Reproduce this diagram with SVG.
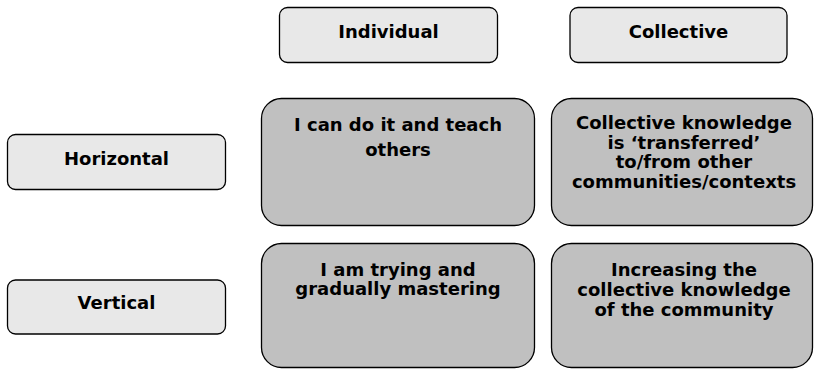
<svg xmlns="http://www.w3.org/2000/svg" width="815" height="370" viewBox="0 0 815 370">
<style>
.hdr{fill:#e8e8e8;stroke:#000;stroke-width:1.3}
.cell{fill:#c0c0c0;stroke:#000;stroke-width:1.3}
text{font-family:"DejaVu Sans","Verdana",sans-serif;font-weight:bold;font-size:18px;fill:#000;text-anchor:middle}
</style>
<rect width="815" height="370" fill="#fff"/>
<g id="individual"><rect class="hdr" x="279.5" y="7.5" width="218" height="55" rx="8"/><text x="388.5" y="37.5">Individual</text></g>
<g id="collective"><rect class="hdr" x="570" y="7.5" width="217" height="55" rx="8"/><text x="678.5" y="37.5">Collective</text></g>
<g id="horizontal"><rect class="hdr" x="7.5" y="134.5" width="218" height="55" rx="8"/><text x="116.5" y="165">Horizontal</text></g>
<g id="vertical"><rect class="hdr" x="7.5" y="280" width="218" height="54" rx="8"/><text x="116.5" y="308.5">Vertical</text></g>
<g id="h-individual"><rect class="cell" x="261.5" y="98.5" width="273" height="127" rx="20"/><text x="398" y="131">I can do it and teach</text><text x="398" y="155.5">others</text></g>
<g id="h-collective"><rect class="cell" x="551.5" y="98.5" width="261" height="127" rx="20"/><text x="684" y="129">Collective knowledge</text><text x="684" y="148.5">is ‘transferred’</text><text x="684" y="168">to/from other</text><text x="684" y="187.5">communities/contexts</text></g>
<g id="v-individual"><rect class="cell" x="261.5" y="243.5" width="273" height="124" rx="20"/><text x="398" y="276">I am trying and</text><text x="398" y="295">gradually mastering</text></g>
<g id="v-collective"><rect class="cell" x="551.5" y="243.5" width="261" height="124" rx="20"/><text x="684" y="276">Increasing the</text><text x="684" y="296">collective knowledge</text><text x="684" y="316">of the community</text></g>
<g id="connectors"></g>
</svg>
